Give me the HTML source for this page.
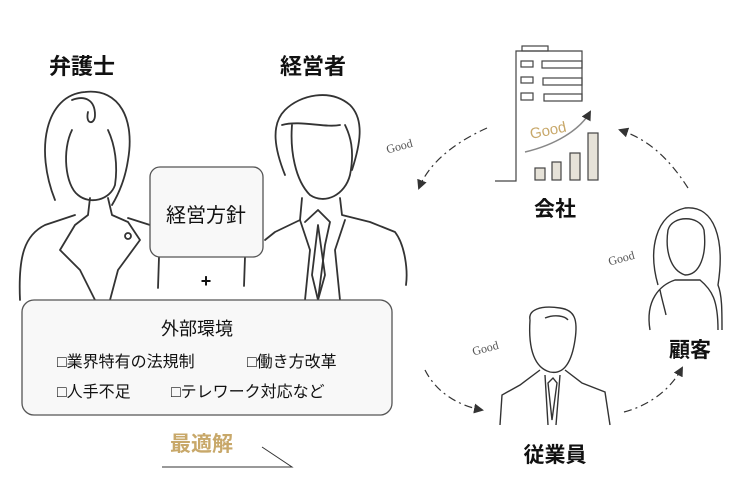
<!DOCTYPE html>
<html><head><meta charset="utf-8"><style>
html,body{margin:0;padding:0;background:#fff;}
svg{display:block;}
text{font-family:"Liberation Sans","Noto Sans CJK JP",sans-serif;}
.g{font-family:"Liberation Serif",serif;font-size:12px;fill:#555;}
.t{font-weight:bold;}
</style></head><body>
<svg width="740" height="495" viewBox="0 0 740 495" xmlns="http://www.w3.org/2000/svg">
<defs><marker id="ah" markerWidth="10" markerHeight="10" refX="8" refY="5" orient="auto" markerUnits="userSpaceOnUse"><path d="M0,0 L10,5 L0,10 Z" fill="#333"/></marker></defs>
<g fill="none" stroke="#333" stroke-width="1.8" stroke-linecap="round" stroke-linejoin="round">
<path d="M55,200 C35,150 45,95 85,92 C120,88 135,120 128,160 C125,180 118,195 112,205"/>
<path d="M72,100 C85,95 95,100 95,115 C95,125 85,125 88,112"/>
<path d="M72,130 C62,150 65,185 78,195 C90,205 110,200 115,185 C118,165 115,145 108,130"/>
<path d="M90,198 L88,215 L75,225 L60,250 L80,270 L95,300"/>
<path d="M108,198 L112,215 L128,222 L140,240 L118,270 L110,300"/>
<path d="M20,300 C18,255 25,235 45,225 L75,215"/>
<path d="M128,218 L150,225"/>
<circle cx="128" cy="236" r="3"/>
<path d="M285,175 C275,150 270,125 285,110 C300,95 330,88 350,105 C365,120 360,145 352,170"/>
<path d="M282,125 C300,120 325,128 340,125"/>
<path d="M292,125 C290,150 295,180 310,195 C325,205 345,195 350,175 C355,150 350,135 345,125"/>
<path d="M302,198 L300,220 L275,232 L265,240"/>
<path d="M340,198 L342,215 L370,222 L395,232 C405,245 408,270 406,285"/>
<path d="M305,222 L318,210 L330,222 L325,245 L318,300"/>
<path d="M300,220 L310,250 L305,300 M345,220 L335,250 L340,300"/>
<path d="M318,225 L312,275 L318,300 L325,275 Z"/>
<path d="M159,257 L158,288 M245,257 L244,286"/>
</g>
<rect x="150" y="167" width="113" height="90" rx="10" fill="#f8f8f8" stroke="#555" stroke-width="1.3"/>
<text x="206" y="222" font-size="20" text-anchor="middle" fill="#111">経営方針</text>
<text x="206" y="287" font-size="18" text-anchor="middle" fill="#111" class="t">+</text>
<rect x="22" y="300" width="370" height="115" rx="12" fill="#f8f8f8" stroke="#555" stroke-width="1.3"/>
<text x="197" y="335" font-size="18" text-anchor="middle" fill="#111">外部環境</text>
<text x="57" y="367" font-size="16" fill="#111">□業界特有の法規制</text>
<text x="247" y="367" font-size="16" fill="#111">□働き方改革</text>
<text x="57" y="397" font-size="16" fill="#111">□人手不足</text>
<text x="171" y="397" font-size="16" fill="#111">□テレワーク対応など</text>
<text x="170" y="451" font-size="21" fill="#c8a86a" class="t">最適解</text>
<path d="M162,467 L292,467 L262,447" fill="none" stroke="#333" stroke-width="1"/>
<text x="82" y="74" font-size="22" text-anchor="middle" fill="#111" class="t">弁護士</text>
<text x="313" y="74" font-size="22" text-anchor="middle" fill="#111" class="t">経営者</text>
<text x="555" y="216" font-size="21" text-anchor="middle" fill="#111" class="t">会社</text>
<text x="690" y="357" font-size="21" text-anchor="middle" fill="#111" class="t">顧客</text>
<text x="555" y="462" font-size="21" text-anchor="middle" fill="#111" class="t">従業員</text>
<g fill="none" stroke="#444" stroke-width="1.2">
<rect x="522" y="46" width="26" height="5"/>
<path d="M495,181 L516,181 L516,51 L582,51 L582,100"/>
<rect x="521" y="61" width="12" height="6"/><rect x="521" y="77" width="12" height="6"/><rect x="521" y="93" width="12" height="7"/>
<rect x="542" y="61" width="40" height="7"/><rect x="543" y="78" width="39" height="7"/><rect x="544" y="94" width="38" height="7"/>
</g>
<g fill="#e6e2d8" stroke="#444" stroke-width="1.2">
<rect x="535" y="168" width="10" height="12"/><rect x="552" y="162" width="9" height="18"/><rect x="570" y="153" width="10" height="27"/><rect x="588" y="133" width="10" height="47"/>
</g>
<path d="M525,152 C555,145 580,130 590,112" fill="none" stroke="#888" stroke-width="1.5" marker-end="url(#ah)"/>
<text x="530" y="136" transform="rotate(-12 545 132)" font-family="Liberation Serif,serif" font-size="15" fill="#c8a86a">Good</text>
<g fill="none" stroke="#333" stroke-width="1.4">
<path d="M658,285 C648,250 655,215 685,208 C715,205 725,240 718,285 C722,295 722,310 722,330"/>
<path d="M668,230 C665,250 670,270 685,275 C700,275 707,255 704,230 C700,215 672,215 668,230"/>
<path d="M660,290 C662,300 665,310 666,315 M650,330 C645,300 660,285 675,280 L700,280 C712,290 718,300 718,330"/>
</g>
<g fill="none" stroke="#333" stroke-width="1.4">
<path d="M530,320 C528,310 540,305 560,308 C575,310 578,320 575,340 C572,360 565,375 550,372 C535,368 528,350 530,320"/>
<path d="M545,318 C555,314 565,316 568,320"/>
<path d="M540,370 L520,385 L502,395 L500,425 M565,370 L582,383 L605,392 L610,425"/>
<path d="M545,375 L548,425 M560,375 L556,425 M548,383 L553,378 L557,383 L552,420 Z"/>
</g>
<text class="g" x="386" y="150" transform="rotate(-15 400 146)">Good</text>
<text class="g" x="608" y="262" transform="rotate(-15 622 258)">Good</text>
<text class="g" x="472" y="352" transform="rotate(-15 486 348)">Good</text>
<g fill="none" stroke="#333" stroke-width="1.2" stroke-dasharray="8,4,2,4" marker-end="url(#ah)">
<path d="M487,128 C460,140 430,160 419,188"/>
<path d="M688,188 C670,160 650,140 620,130"/>
<path d="M624,412 C650,405 670,390 682,368"/>
<path d="M425,370 C435,390 455,405 482,410"/>
</g>
</svg>
</body></html>
